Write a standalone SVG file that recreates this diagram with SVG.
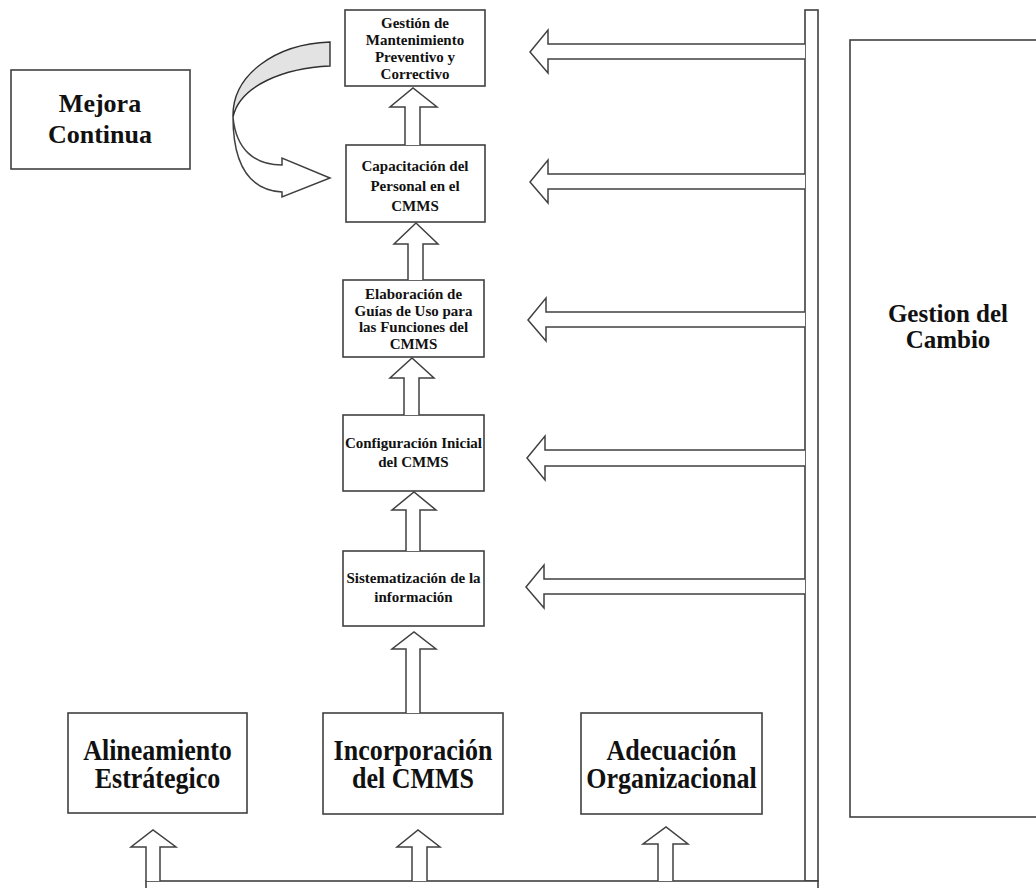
<svg xmlns="http://www.w3.org/2000/svg" width="1036" height="888" viewBox="0 0 1036 888">
  <style>
    .box { fill: #ffffff; stroke: #404040; stroke-width: 1.6; }
    .arr { fill: #ffffff; stroke: #404040; stroke-width: 1.5; stroke-linejoin: miter; }
    .bar { fill: #ffffff; stroke: #404040; stroke-width: 1.6; }
    .shade { fill: #e3e3e3; stroke: #303030; stroke-width: 1.4; }
    text { font-family: "Liberation Serif", "Times New Roman", serif; font-weight: bold; fill: #111111; text-anchor: middle; }
    .s { font-size: 15px; }
    .l { font-size: 26px; }
    .m { font-size: 25px; }
  </style>

  <rect width="1036" height="888" fill="#ffffff"/>

  <!-- change-management side panel -->
  <g id="gestion-cambio">
    <rect class="box" x="850" y="40" width="200" height="777"/>
    <text class="m" x="948" y="322">Gestion del</text>
    <text class="m" x="948" y="348">Cambio</text>
  </g>

  <!-- continuous improvement -->
  <g id="mejora-continua">
    <rect class="box" x="11" y="70" width="179" height="99"/>
    <text class="l" x="100" y="112">Mejora</text>
    <text class="l" x="100" y="143">Continua</text>
  </g>

  <g id="gestion-mantenimiento">
    <rect class="box" x="345" y="10" width="140" height="76"/>
    <text class="s" x="415" y="28">Gestión de</text>
    <text class="s" x="415" y="45">Mantenimiento</text>
    <text class="s" x="415" y="62">Preventivo y</text>
    <text class="s" x="415" y="79">Correctivo</text>
  </g>

  <g id="capacitacion">
    <rect class="box" x="346" y="145" width="139" height="77"/>
    <text class="s" x="415" y="171">Capacitación del</text>
    <text class="s" x="415" y="191">Personal en el</text>
    <text class="s" x="415" y="211">CMMS</text>
  </g>

  <g id="elaboracion-guias">
    <rect class="box" x="343" y="280" width="141" height="77"/>
    <text class="s" x="413.5" y="299">Elaboración de</text>
    <text class="s" x="413.5" y="316">Guías de Uso para</text>
    <text class="s" x="413.5" y="332">las Funciones del</text>
    <text class="s" x="413.5" y="349">CMMS</text>
  </g>

  <g id="configuracion">
    <rect class="box" x="343" y="415" width="141" height="76"/>
    <text class="s" x="413.5" y="448">Configuración Inicial</text>
    <text class="s" x="413.5" y="467">del CMMS</text>
  </g>

  <g id="sistematizacion">
    <rect class="box" x="343" y="551" width="141" height="75"/>
    <text class="s" x="413.5" y="583">Sistematización de la</text>
    <text class="s" x="413.5" y="602">información</text>
  </g>

  <!-- the three base pillars use slightly taller lettering -->
  <g id="alineamiento">
    <rect class="box" x="68" y="713" width="179" height="100"/>
    <text class="l" transform="matrix(1 0 0 1.12 157.5 760)">Alineamiento</text>
    <text class="l" transform="matrix(1 0 0 1.12 157.5 788)">Estrátegico</text>
  </g>

  <g id="incorporacion">
    <rect class="box" x="323" y="713" width="180" height="101"/>
    <text class="l" transform="matrix(1 0 0 1.12 413 760)">Incorporación</text>
    <text class="l" transform="matrix(1 0 0 1.12 413 788)">del CMMS</text>
  </g>

  <g id="adecuacion">
    <rect class="box" x="581" y="713" width="181" height="101"/>
    <text class="l" transform="matrix(1 0 0 1.12 671.5 760)">Adecuación</text>
    <text class="l" transform="matrix(1 0 0 1.12 671.5 788)">Organizacional</text>
  </g>

  <g id="connectors">
    <!-- support bars -->
    <rect class="bar" x="805" y="10" width="13" height="871"/>
    <rect class="bar" x="146" y="881" width="672" height="14"/>

    <!-- block arrows from the change-management bar -->
    <path class="arr" d="M805,44 L548,44 L548,30 L530,52 L548,73 L548,59 L805,59"/>
    <path class="arr" d="M805,174 L548,174 L548,160 L530,182 L548,203 L548,189 L805,189"/>
    <path class="arr" d="M805,312 L546,312 L546,298 L528,320 L546,341 L546,327 L805,327"/>
    <path class="arr" d="M805,450 L545,450 L545,436 L527,458 L545,480 L545,466 L805,466"/>
    <path class="arr" d="M805,579 L544,579 L544,565 L526,587 L544,608 L544,594 L805,594"/>

    <!-- upward block arrows along the central column -->
    <path class="arr" d="M405,145 L405,107 L390,107 L413,88 L437,107 L420,107 L420,145"/>
    <path class="arr" d="M408,280 L408,244 L394,244 L416,223 L438,244 L423,244 L423,280"/>
    <path class="arr" d="M404,415 L404,378 L390,378 L412,358 L434,378 L419,378 L419,415"/>
    <path class="arr" d="M406,551 L406,510 L392,510 L414,492 L436,510 L420,510 L420,551"/>
    <path class="arr" d="M406,713 L406,649 L392,649 L414,632 L436,649 L420,649 L420,713"/>

    <!-- upward block arrows from the base bar -->
    <path class="arr" d="M146,881 L146,847 L131,847 L153,830 L176,847 L160,847 L160,881"/>
    <path class="arr" d="M412,881 L412,847 L397,847 L418,830 L440,847 L427,847 L427,881"/>
    <path class="arr" d="M658,881 L658,844 L643,844 L666,827 L688,844 L673,844 L673,881"/>

    <!-- curved return arrow -->
    <path class="shade" d="M330,42 L330,66 C285,68 240,85 233,117 C232,75 275,44 330,42 Z"/>
    <path class="arr" d="M233,117 C236,150 255,165 282,165 L282,158 L330,178 L282,197 L282,192 C250,190 233,165 233,117 Z"/>
  </g>
</svg>
